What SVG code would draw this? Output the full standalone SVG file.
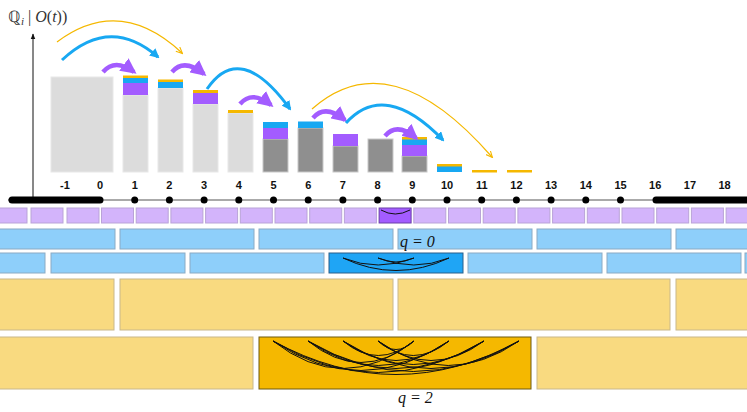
<svg xmlns="http://www.w3.org/2000/svg" width="747" height="412" viewBox="0 0 747 412">
<defs>
<style>
.lbl{font-family:"Liberation Sans",Arial,sans-serif;font-size:11px;font-weight:bold;text-anchor:middle;fill:#111}
.q{font-family:"Liberation Serif","Times New Roman",serif;font-size:16px;font-style:italic;fill:#111}
.pc{fill:#d3b4fb;stroke:#b9a3d8;stroke-width:1}
.bc{fill:#8ecffa;stroke:#8aaac4;stroke-width:1}
.yc{fill:#f9da80;stroke:#c9b88a;stroke-width:1}
.lg{fill:#dcdcdc;stroke:#e8e8e8}
.dg{fill:#8f8f8f;stroke:#c8c8c8}
.arc{fill:none;stroke:#111;stroke-width:1}
</style>
<marker id="mb" viewBox="0 0 10 10" refX="8" refY="5" markerWidth="3.2" markerHeight="3.2" orient="auto"><path d="M0,0L10,5L0,10z" fill="#18a8f2"/></marker>
<marker id="mp" viewBox="0 0 10 10" refX="8" refY="5" markerWidth="3.5" markerHeight="3.5" orient="auto"><path d="M0,0L10,5L0,10z" fill="#a35cff"/></marker>
<marker id="my" viewBox="0 0 10 10" refX="8" refY="5" markerWidth="6" markerHeight="6" orient="auto"><path d="M0,1L9,5L0,9" fill="none" stroke="#f5b800" stroke-width="1.5"/></marker>
<marker id="ma" viewBox="0 0 10 10" refX="9" refY="5" markerWidth="6" markerHeight="6" orient="auto"><path d="M0,1L10,5L0,9z" fill="#111"/></marker>
</defs>
<text x="8" y="22" font-family="Liberation Serif,serif" font-size="16" fill="#333">ℚ<tspan font-style="italic" font-size="11" dy="3">i</tspan><tspan dy="-3"> | </tspan><tspan font-style="italic">O</tspan>(<tspan font-style="italic">t</tspan>))</text>
<line x1="33" y1="200" x2="33" y2="34" stroke="#111" stroke-width="1" marker-end="url(#ma)"/>
<g id="bars">
<rect class="lg" x="51" y="77" width="62" height="95"/>
<rect class="lg" x="123" y="95" width="25" height="77"/><rect x="123" y="83" width="25" height="12" fill="#a35cff"/><rect x="123" y="78" width="25" height="5" fill="#18a8f2"/><rect x="123" y="75.5" width="25" height="2.5" fill="#f5b800"/>
<rect class="lg" x="158" y="88" width="25" height="84"/><rect x="158" y="82" width="25" height="6" fill="#18a8f2"/><rect x="158" y="79.5" width="25" height="2.5" fill="#f5b800"/>
<rect class="lg" x="193" y="104" width="25" height="68"/><rect x="193" y="93" width="25" height="11" fill="#a35cff"/><rect x="193" y="90" width="25" height="3" fill="#f5b800"/>
<rect class="lg" x="228" y="113" width="25" height="59"/><rect x="228" y="110" width="25" height="3" fill="#f5b800"/>
<rect class="dg" x="263" y="139" width="25" height="33"/><rect x="263" y="128" width="25" height="11" fill="#a35cff"/><rect x="263" y="122" width="25" height="6" fill="#18a8f2"/>
<rect class="dg" x="298" y="128" width="25" height="44"/><rect x="298" y="121.5" width="25" height="6.5" fill="#18a8f2"/>
<rect class="dg" x="333" y="146" width="25" height="26"/><rect x="333" y="134" width="25" height="12" fill="#a35cff"/>
<rect class="dg" x="368" y="139" width="25" height="33"/>
<rect class="dg" x="402" y="156" width="25" height="16"/><rect x="402" y="145" width="25" height="11" fill="#a35cff"/><rect x="402" y="139" width="25" height="6" fill="#18a8f2"/><rect x="402" y="137" width="25" height="2.5" fill="#f5b800"/>
<rect x="437" y="166" width="25" height="6" fill="#18a8f2"/><rect x="437" y="164" width="25" height="2.5" fill="#f5b800"/>
<rect x="472" y="170" width="25" height="2.5" fill="#f5b800"/>
<rect x="507" y="170" width="25" height="2.5" fill="#f5b800"/>
</g>
<g id="connectors" fill="none">
<path d="M57,42 Q120,-5 182,53" stroke="#f5b800" stroke-width="1.2" marker-end="url(#my)"/>
<path d="M62,60 Q110,15 158,57" stroke="#18a8f2" stroke-width="3" marker-end="url(#mb)"/>
<path d="M103,72 Q115,58 134,72" stroke="#a35cff" stroke-width="4.5" marker-end="url(#mp)"/>
<path d="M172,72 Q184,58 204,74" stroke="#a35cff" stroke-width="4.5" marker-end="url(#mp)"/>
<path d="M207,89 Q240,40 290,109" stroke="#18a8f2" stroke-width="3" marker-end="url(#mb)"/>
<path d="M240,104 Q252,90 271,105" stroke="#a35cff" stroke-width="4.5" marker-end="url(#mp)"/>
<path d="M313,118 Q325,104 345,120" stroke="#a35cff" stroke-width="4.5" marker-end="url(#mp)"/>
<path d="M312,109 Q390,40 492,157" stroke="#f5b800" stroke-width="1.2" marker-end="url(#my)"/>
<path d="M346,123 Q385,80 443,140" stroke="#18a8f2" stroke-width="3" marker-end="url(#mb)"/>
<path d="M385,136 Q397,122 416,138" stroke="#a35cff" stroke-width="4.5" marker-end="url(#mp)"/>
</g>
<g id="timeline">
<line x1="8" y1="200" x2="747" y2="200" stroke="#555" stroke-width="1"/>
<line x1="12" y1="200" x2="100" y2="200" stroke="#000" stroke-width="7" stroke-linecap="round"/>
<line x1="656" y1="200" x2="747" y2="200" stroke="#000" stroke-width="7" stroke-linecap="round"/>
<g fill="#000">
<circle cx="134.7" cy="200" r="3.5"/><circle cx="169.4" cy="200" r="3.5"/><circle cx="204.1" cy="200" r="3.5"/><circle cx="238.8" cy="200" r="3.5"/><circle cx="273.5" cy="200" r="3.5"/><circle cx="308.2" cy="200" r="3.5"/><circle cx="342.9" cy="200" r="3.5"/><circle cx="377.6" cy="200" r="3.5"/><circle cx="412.3" cy="200" r="3.5"/><circle cx="447" cy="200" r="3.5"/><circle cx="481.7" cy="200" r="3.5"/><circle cx="516.4" cy="200" r="3.5"/><circle cx="551.1" cy="200" r="3.5"/><circle cx="585.8" cy="200" r="3.5"/><circle cx="620.5" cy="200" r="3.5"/>
</g>
<text class="lbl" x="65" y="189">-1</text><text class="lbl" x="100" y="189">0</text><text class="lbl" x="134.7" y="189">1</text><text class="lbl" x="169.4" y="189">2</text><text class="lbl" x="204.1" y="189">3</text><text class="lbl" x="238.8" y="189">4</text><text class="lbl" x="273.5" y="189">5</text><text class="lbl" x="308.2" y="189">6</text><text class="lbl" x="342.9" y="189">7</text><text class="lbl" x="377.6" y="189">8</text><text class="lbl" x="412.3" y="189">9</text><text class="lbl" x="447" y="189">10</text><text class="lbl" x="481.7" y="189">11</text><text class="lbl" x="516.4" y="189">12</text><text class="lbl" x="551.1" y="189">13</text><text class="lbl" x="585.8" y="189">14</text><text class="lbl" x="620.5" y="189">15</text><text class="lbl" x="655.2" y="189">16</text><text class="lbl" x="689.9" y="189">17</text><text class="lbl" x="724.6" y="189">18</text>
</g>
<g id="row-purple">
<rect class="pc" x="-5" y="208" width="32" height="15"/><rect class="pc" x="31" y="208" width="32" height="15"/><rect class="pc" x="67" y="208" width="32" height="15"/><rect class="pc" x="101.5" y="208" width="32" height="15"/><rect class="pc" x="136.2" y="208" width="32" height="15"/><rect class="pc" x="170.9" y="208" width="32" height="15"/><rect class="pc" x="205.6" y="208" width="32" height="15"/><rect class="pc" x="240.3" y="208" width="32" height="15"/><rect class="pc" x="275" y="208" width="32" height="15"/><rect class="pc" x="309.7" y="208" width="32" height="15"/><rect class="pc" x="344.4" y="208" width="32" height="15"/>
<rect x="379.1" y="208" width="32" height="15" fill="#a35cff" stroke="#6a3ea8"/>
<rect class="pc" x="413.8" y="208" width="32" height="15"/><rect class="pc" x="448.5" y="208" width="32" height="15"/><rect class="pc" x="483.2" y="208" width="32" height="15"/><rect class="pc" x="517.9" y="208" width="32" height="15"/><rect class="pc" x="552.6" y="208" width="32" height="15"/><rect class="pc" x="587.3" y="208" width="32" height="15"/><rect class="pc" x="622" y="208" width="32" height="15"/><rect class="pc" x="656.7" y="208" width="32" height="15"/><rect class="pc" x="691.4" y="208" width="32" height="15"/><rect class="pc" x="726.1" y="208" width="32" height="15"/>
<path class="arc" d="M381,210 Q395,218 410,210"/>
</g>
<g id="row-blue0">
<rect class="bc" x="-5" y="229" width="120" height="20"/><rect class="bc" x="120" y="229" width="134" height="20"/><rect class="bc" x="259" y="229" width="134" height="20"/><rect class="bc" x="398" y="229" width="134" height="20"/><rect class="bc" x="537" y="229" width="134" height="20"/><rect class="bc" x="676" y="229" width="80" height="20"/>
<text class="q" x="400" y="247">q = 0</text>
</g>
<g id="row-blue1">
<rect class="bc" x="-5" y="253" width="50" height="20"/><rect class="bc" x="51" y="253" width="134" height="20"/><rect class="bc" x="190" y="253" width="134" height="20"/>
<rect x="329" y="253" width="134" height="20" fill="#1fa5f5" stroke="#2a5f8a"/>
<rect class="bc" x="468" y="253" width="134" height="20"/><rect class="bc" x="607" y="253" width="134" height="20"/><rect class="bc" x="745" y="253" width="10" height="20"/>
<path class="arc" d="M343,258 Q396,283 449,258"/><path class="arc" d="M343,258 Q378,272 414,258"/><path class="arc" d="M378,258 Q414,272 449,258"/><path class="arc" d="M378,258 Q396,266 414,258"/>
<text class="q" x="400" y="296">q = 1</text>
</g>
<g id="row-yellow0">
<rect class="yc" x="-5" y="279" width="119" height="51"/><rect class="yc" x="120" y="279" width="273" height="51"/><rect class="yc" x="398" y="279" width="272" height="51"/><rect class="yc" x="676" y="279" width="80" height="51"/>
</g>
<g id="row-yellow1">
<rect class="yc" x="-5" y="337" width="258" height="52"/>
<rect x="259" y="337" width="272" height="52" fill="#f5b800" stroke="#6e5a10"/>
<rect class="yc" x="537" y="337" width="220" height="52"/>
<g class="arc" stroke-width="0.8">
<path d="M273,341 Q343,396 414,341"/><path d="M273,341 Q361,400 449,341"/><path d="M273,341 Q378,404 484,341"/><path d="M273,341 Q396,408 519,341"/>
<path d="M308,341 Q361,384 414,341"/><path d="M308,341 Q378,390 449,341"/><path d="M308,341 Q396,396 484,341"/><path d="M308,341 Q413,402 519,341"/>
<path d="M343,341 Q378,370 414,341"/><path d="M343,341 Q396,380 449,341"/><path d="M343,341 Q413,388 484,341"/><path d="M343,341 Q431,396 519,341"/>
<path d="M378,341 Q396,358 414,341"/><path d="M378,341 Q413,370 449,341"/><path d="M378,341 Q431,380 484,341"/><path d="M378,341 Q448,390 519,341"/>
</g>
<text class="q" x="398" y="403">q = 2</text>
</g>
</svg>
